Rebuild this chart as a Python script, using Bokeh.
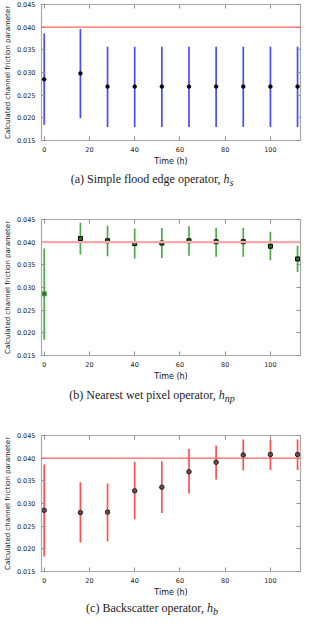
from bokeh.plotting import figure
from bokeh.models import (Span, Div, LinearAxis, SingleIntervalTicker, NumeralTickFormatter,
                          CustomJSTickFormatter, ColumnDataSource)
from bokeh.layouts import column
from bokeh.embed import file_html
from bokeh.resources import INLINE

# ---- data ----
times = [0, 16, 28, 40, 52, 64, 76, 88, 100, 112]
true_value = 0.040

a_mean = [0.0285, 0.0298, 0.0269, 0.0269, 0.0269, 0.0269, 0.0269, 0.0269, 0.0269, 0.0269]
a_lo = [0.0185, 0.0199, 0.0180, 0.0180, 0.0180, 0.0180, 0.0180, 0.0180, 0.0180, 0.0180]
a_hi = [0.0386, 0.0396, 0.0357, 0.0357, 0.0357, 0.0357, 0.0357, 0.0357, 0.0357, 0.0357]

b_mean = [0.0286, 0.0408, 0.0403, 0.0397, 0.0398, 0.0403, 0.0401, 0.0401, 0.0391, 0.0363]
b_lo = [0.0185, 0.0373, 0.0369, 0.0364, 0.0365, 0.0370, 0.0368, 0.0368, 0.0360, 0.0334]
b_hi = [0.0386, 0.0443, 0.0436, 0.0430, 0.0431, 0.0435, 0.0432, 0.0432, 0.0423, 0.0392]

c_mean = [0.0285, 0.0280, 0.0281, 0.0328, 0.0336, 0.0370, 0.0391, 0.0407, 0.0408, 0.0408]
c_lo = [0.0183, 0.0214, 0.0217, 0.0265, 0.0279, 0.0322, 0.0353, 0.0373, 0.0374, 0.0374]
c_hi = [0.0386, 0.0347, 0.0344, 0.0392, 0.0393, 0.0420, 0.0428, 0.0441, 0.0441, 0.0441]

x_label = "Time (h)"
y_label = "Calculated channel friction parameter"
captions = [
    "(a) Simple flood edge operator, <i>h<sub>s</sub></i>",
    "(b) Nearest wet pixel operator, <i>h<sub>np</sub></i>",
    "(c) Backscatter operator, <i>h<sub>b</sub></i>",
]

AX_FONT = "DejaVu Sans"
FRAME = "#a8a8a8"


def make_panel(mean, lo, hi, bar_color, marker, msize, fill, edge, span_color, span_width,
               top, height):
    p = figure(width=304, height=height, x_range=(-1.2, 113.3), y_range=(0.015, 0.045),
               output_backend="svg", toolbar_location=None,
               min_border_left=29, min_border_right=1, min_border_top=top, min_border_bottom=30)
    p.grid.visible = False
    p.outline_line_color = FRAME
    p.outline_line_width = 1.2
    p.background_fill_color = "white"
    p.border_fill_color = "white"

    src = ColumnDataSource(dict(t=times, m=mean, lo=lo, hi=hi, edge=edge))
    p.add_layout(Span(location=true_value, dimension="width", line_color=span_color,
                      line_width=span_width))
    p.segment(x0="t", y0="lo", x1="t", y1="hi", source=src, line_color=bar_color,
              line_width=1.7)
    p.scatter(x="t", y="m", source=src, marker=marker, size=msize, fill_color=fill,
              line_color="edge", line_width=1.0)

    # bottom / left axes
    for ax in (p.xaxis[0], p.yaxis[0]):
        ax.major_tick_in = 4
        ax.major_tick_out = 0
        ax.minor_tick_line_color = None
        ax.axis_line_color = FRAME
        ax.major_tick_line_color = "#909090"
        ax.major_label_text_font = AX_FONT
        ax.major_label_text_font_size = "6.5px"
        ax.major_label_text_color = "#222222"
        ax.axis_label_text_font = AX_FONT
        ax.axis_label_text_font_style = "normal"
        ax.axis_label_text_color = "#111111"
        ax.major_label_standoff = 2
        ax.axis_label_standoff = 2
    p.xaxis[0].ticker = SingleIntervalTicker(interval=20)
    p.yaxis[0].ticker = SingleIntervalTicker(interval=0.005)
    p.yaxis[0].formatter = NumeralTickFormatter(format="0.000")
    p.xaxis[0].axis_label = x_label
    p.xaxis[0].axis_label_text_font_size = "8px"
    p.yaxis[0].axis_label = y_label
    p.yaxis[0].axis_label_text_font_size = "7px"

    # tick marks on top and right edges (no labels)
    blank = CustomJSTickFormatter(code="return ''")
    top_ax = LinearAxis(ticker=SingleIntervalTicker(interval=20), formatter=blank,
                        major_tick_in=4, major_tick_out=0, minor_tick_line_color=None,
                        axis_line_color=FRAME, major_tick_line_color="#909090",
                        major_label_standoff=0)
    right_ax = LinearAxis(ticker=SingleIntervalTicker(interval=0.005), formatter=blank,
                          major_tick_in=4, major_tick_out=0, minor_tick_line_color=None,
                          axis_line_color=FRAME, major_tick_line_color="#909090",
                          major_label_standoff=0)
    p.add_layout(top_ax, "above")
    p.add_layout(right_ax, "right")
    return p


def caption(html, height):
    return Div(text=html, width=304, height=height, margin=(0, 0, 0, 0),
               styles={"text-align": "center", "font-family": "Liberation Serif",
                       "font-size": "12px", "line-height": f"{height}px",
                       "color": "#1a1a1a", "width": "304px"})


edge_a = ["black"] * len(times)
edge_b = ["#3a9a3a"] + ["black"] * (len(times) - 1)
edge_c = ["#222222"] * len(times)

pa = make_panel(a_mean, a_lo, a_hi, "#4a4aff", "circle", 3.5, "black", edge_a,
                "#ff6060", 1.1, 4, 170)
pb = make_panel(b_mean, b_lo, b_hi, "#4aaa4a", "square", 4, "#2f6a2f", edge_b,
                "#f7a8a8", 2.4, 31, 197)
pc = make_panel(c_mean, c_lo, c_hi, "#ff5050", "circle", 4.5, "#6a4a4a", edge_c,
                "#ff6060", 1.2, 30, 196)

layout = column(pa, caption(captions[0], 18), pb, caption(captions[1], 20), pc,
                caption(captions[2], 14), spacing=0)

open("out.html", "w").write(file_html(layout, INLINE))
